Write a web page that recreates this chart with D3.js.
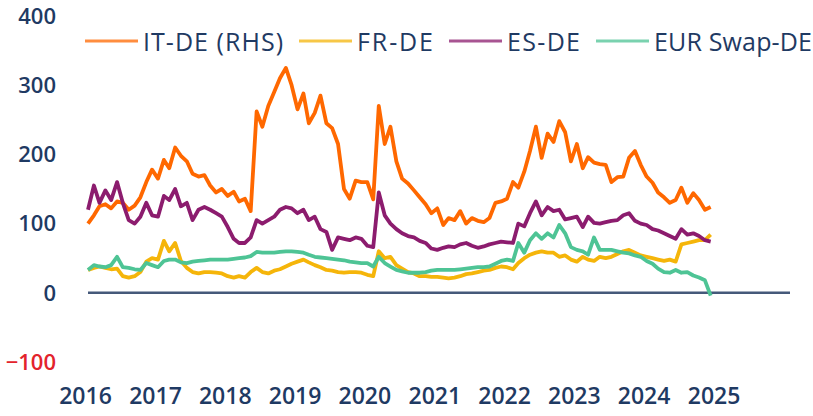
<!DOCTYPE html>
<html><head><meta charset="utf-8">
<script src="https://cdn.jsdelivr.net/npm/d3@7"></script>
<style>
body{margin:0;background:#fff}
text{font-family:"Open Sans",sans-serif}
</style>
</head><body>
<svg id="chart" width="813" height="416"></svg>
<script>
// Monthly observations, Jan 2016 .. Dec 2024 (bp)
const startDate = new Date(2016, 0, 1);
const itDe = [
 100,112,125,128,122,132,130,120,126,138,160,178,
 165,192,180,210,198,190,172,168,170,155,145,150,
 140,146,132,136,118,262,240,270,290,310,325,300,
 265,288,245,260,285,245,238,215,150,136,162,160,
 160,135,270,215,240,190,165,158,148,138,128,115,
 122,98,108,105,118,100,108,104,102,108,130,132,
 136,160,152,175,205,240,195,230,218,248,232,190,
 215,180,196,188,186,185,160,167,168,195,205,185,
 168,159,145,138,130,134,152,130,144,134,120,124
];
const frDe = [
 33,36,38,36,34,35,24,22,24,30,45,50,
 48,75,60,72,46,36,30,28,30,30,29,28,
 24,22,24,22,30,36,30,28,32,34,38,42,
 45,48,44,40,37,33,32,30,29,30,30,29,
 26,24,60,50,52,40,35,30,28,24,24,23,
 23,22,21,22,24,27,28,30,32,33,36,38,
 37,34,43,50,55,58,60,58,58,52,54,48,
 45,52,48,46,52,50,52,56,60,62,58,54,
 52,50,48,46,48,45,70,72,74,76,76,84
];
const esDe = [
 120,155,130,148,134,160,130,105,100,110,130,112,
 110,140,134,150,125,130,105,120,124,120,115,110,
 95,78,72,72,80,105,100,105,110,120,124,122,
 115,120,105,110,92,88,62,80,78,76,80,78,
 68,66,145,112,100,92,86,82,80,75,72,64,
 62,65,67,66,70,72,68,65,67,70,72,74,
 73,72,100,96,115,132,112,124,118,120,106,108,
 110,95,110,101,100,102,104,105,112,115,104,100,
 98,92,90,86,82,78,92,84,86,82,76,74
];
const swapDe = [
 33,40,38,37,40,52,37,36,34,33,43,40,
 37,46,48,48,44,43,45,46,47,48,48,48,
 48,49,50,51,53,59,58,58,58,59,60,60,
 59,58,55,52,51,50,49,48,47,45,44,43,
 43,38,52,43,38,33,31,29,29,29,30,32,
 33,33,33,33,34,35,36,37,37,38,42,46,
 48,46,72,58,76,86,78,86,80,98,86,66,
 62,60,55,80,62,62,62,60,58,57,54,52,
 46,42,35,30,29,33,29,30,25,22,18,-4
];
const seriesNames = ["IT-DE (RHS)", "FR-DE", "ES-DE", "EUR Swap-DE"];
const seriesValues = [itDe, frDe, esDe, swapDe];
const seriesColors = ["#ff6800", "#f5b50a", "#8c1c6e", "#4ec495"];
const yTickValues = [400, 300, 200, 100, 0, -100];
const xTickYears = [2016, 2017, 2018, 2019, 2020, 2021, 2022, 2023, 2024, 2025];

const svg = d3.select("#chart");
const textColor = "#1f3a63";

const x = d3.scaleTime()
  .domain([new Date(2016, 0, 1), new Date(2026, 0, 20)])
  .range([88, 790]);
const y = d3.scaleLinear().domain([-100, 400]).range([362, 16]);

const dates = d3.range(itDe.length).map(i => d3.timeMonth.offset(startDate, i));

// Y axis
const yAxis = svg.append("g")
  .attr("transform", "translate(56,0)")
  .call(d3.axisLeft(y).tickValues(yTickValues).tickSize(0).tickPadding(0));
yAxis.select(".domain").remove();
yAxis.selectAll("text")
  .attr("font-size", 22).attr("font-weight", 600)
  .attr("dy", "0.33em")
  .attr("font-family", "'Open Sans', sans-serif")
  .attr("fill", d => d < 0 ? "#e3232c" : textColor);

// X axis
const xAxis = svg.append("g")
  .attr("transform", "translate(-3,384)")
  .call(d3.axisBottom(x).tickValues(xTickYears.map(yr => new Date(yr, 0, 1)))
    .tickFormat(d3.timeFormat("%Y")).tickSize(0).tickPadding(4));
xAxis.select(".domain").remove();
xAxis.selectAll("text")
  .attr("font-size", 23).attr("font-weight", 600)
  .attr("font-family", "'Open Sans', sans-serif")
  .attr("fill", textColor);

// zero line
svg.append("line")
  .attr("x1", x.range()[0]).attr("x2", x.range()[1])
  .attr("y1", y(0)).attr("y2", y(0))
  .attr("stroke", "#45597a").attr("stroke-width", 2.5);

// series
const line = d3.line().x((d, i) => x(dates[i])).y(d => y(d));
seriesValues.forEach((vals, k) => {
  svg.append("path")
    .datum(vals)
    .attr("d", line)
    .attr("fill", "none")
    .attr("stroke", seriesColors[k])
    .attr("stroke-width", 3.8)
    .attr("stroke-linejoin", "round");
});

// legend
const legendTextWidths = [140, 76, 73, 158];
const legend = svg.append("g").attr("transform", "translate(0,42)");
let lx = 85;
seriesNames.forEach((name, k) => {
  legend.append("line")
    .attr("x1", lx).attr("x2", lx + 53)
    .attr("y1", -1).attr("y2", -1)
    .attr("stroke", seriesColors[k]).attr("stroke-width", 3).attr("opacity", 0.75);
  legend.append("text")
    .attr("x", lx + 58).attr("y", 0).attr("dy", "0.35em")
    .attr("font-size", 25).attr("font-weight", 500)
    .attr("fill", textColor)
    .attr("textLength", legendTextWidths[k])
    .attr("lengthAdjust", "spacing")
    .text(name);
  lx += 58 + legendTextWidths[k] + 16;
});
</script>
</body></html>
